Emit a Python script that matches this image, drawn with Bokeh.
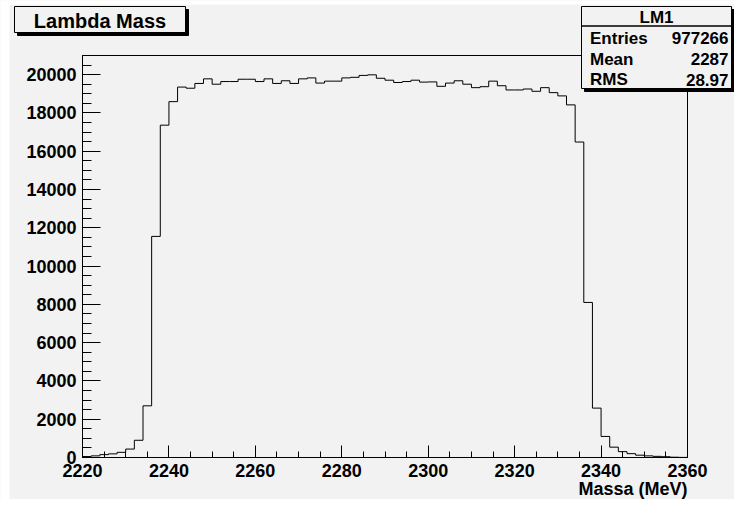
from bokeh.plotting import figure
from bokeh.models import Range1d, FixedTicker, Label, BoxAnnotation
from bokeh.embed import file_html
from bokeh.resources import INLINE

# ---- data ----
bin_low = [2220, 2222, 2224, 2226, 2228, 2230, 2232, 2234, 2236, 2238,
           2240, 2242, 2244, 2246, 2248, 2250, 2252, 2254, 2256, 2258,
           2260, 2262, 2264, 2266, 2268, 2270, 2272, 2274, 2276, 2278,
           2280, 2282, 2284, 2286, 2288, 2290, 2292, 2294, 2296, 2298,
           2300, 2302, 2304, 2306, 2308, 2310, 2312, 2314, 2316, 2318,
           2320, 2322, 2324, 2326, 2328, 2330, 2332, 2334, 2336, 2338,
           2340, 2342, 2344, 2346, 2348, 2350, 2352, 2354, 2356, 2358]
bin_high_last = 2360
counts = [50, 85, 150, 190, 270, 440, 900, 2700, 11550, 17360,
          18590, 19350, 19290, 19540, 19780, 19500, 19640, 19640, 19760, 19760,
          19640, 19780, 19540, 19680, 19540, 19780, 19830, 19560, 19660, 19660,
          19830, 19860, 19960, 19990, 19810, 19710, 19590, 19640, 19710, 19610,
          19620, 19390, 19560, 19680, 19500, 19320, 19370, 19660, 19420, 19200,
          19200, 19250, 19130, 19320, 19060, 18890, 18420, 16480, 8100, 2580,
          1100, 540, 306, 200, 120, 85, 60, 40, 15, 5]

x_ticks = [2220, 2240, 2260, 2280, 2300, 2320, 2340, 2360]
x_minor = [2220, 2225, 2230, 2235, 2240, 2245, 2250, 2255, 2260, 2265, 2270,
           2275, 2280, 2285, 2290, 2295, 2300, 2305, 2310, 2315, 2320, 2325,
           2330, 2335, 2340, 2345, 2350, 2355, 2360]
y_ticks = [0, 2000, 4000, 6000, 8000, 10000, 12000, 14000, 16000, 18000, 20000]
y_minor = [0, 500, 1000, 1500, 2000, 2500, 3000, 3500, 4000, 4500, 5000,
           5500, 6000, 6500, 7000, 7500, 8000, 8500, 9000, 9500, 10000,
           10500, 11000, 11500, 12000, 12500, 13000, 13500, 14000, 14500,
           15000, 15500, 16000, 16500, 17000, 17500, 18000, 18500, 19000,
           19500, 20000, 20500, 21000]

title_text = "Lambda Mass"
x_label = "Massa (MeV)"
stats_name = "LM1"
stats_rows = [("Entries", "977266"), ("Mean", "2287"), ("RMS", "28.97")]

X0, X1 = 2220, 2360
Y0, Y1 = 0, 21000

# ---- geometry (figure pixels) ----
W, H = 734, 499
FL, FR, FT, FB = 82, 687, 55, 457  # histogram frame edges


def dx(sx):
    return X0 + (sx - FL) * (X1 - X0) / (FR - FL)


def dy(sy):
    return Y0 + (FB - sy) * (Y1 - Y0) / (FB - FT)


BG = "#f2f2f2"
FONT = "Liberation Sans"

# the drawing area covers the whole canvas; axes are pinned to the frame edges
p = figure(width=W, height=H, title=None,
           x_range=Range1d(dx(0), dx(W)), y_range=Range1d(dy(H), dy(0)),
           output_backend="svg", toolbar_location=None, min_border=0)
p.background_fill_color = BG
p.border_fill_color = BG
p.outline_line_color = None
p.xgrid.grid_line_color = None
p.ygrid.grid_line_color = None

for ax in (p.xaxis[0], p.yaxis[0]):
    ax.axis_line_color = "black"
    ax.major_tick_line_color = "black"
    ax.minor_tick_line_color = "black"
    ax.major_tick_out = 0
    ax.minor_tick_out = 0
    ax.major_label_text_font = FONT
    ax.major_label_text_font_style = "bold"
    ax.major_label_text_font_size = "18px"
    ax.major_label_text_color = "black"

xa = p.xaxis[0]
xa.fixed_location = Y0
xa.bounds = (X0, X1)
xa.ticker = FixedTicker(ticks=x_ticks, minor_ticks=x_minor)
xa.major_tick_in = 12
xa.minor_tick_in = 6
xa.major_label_standoff = 6

ya = p.yaxis[0]
ya.fixed_location = X0
ya.bounds = (Y0, Y1)
ya.ticker = FixedTicker(ticks=y_ticks, minor_ticks=y_minor)
ya.major_tick_in = 18
ya.minor_tick_in = 9
ya.major_label_standoff = 6

# white page strips seen at the left and top of the reference
p.add_layout(BoxAnnotation(left=dx(0), right=dx(9), top=dy(0), bottom=dy(H),
                           fill_color="white", fill_alpha=1.0, line_color=None))
p.add_layout(BoxAnnotation(left=dx(0), right=dx(W), top=dy(0), bottom=dy(4),
                           fill_color="white", fill_alpha=1.0, line_color=None))

# histogram outline
edges = bin_low + [bin_high_last]
levels = counts + [counts[-1]]
p.step(x=edges, y=levels, mode="after", line_color="black", line_width=1)

# frame
p.add_layout(BoxAnnotation(left=X0, right=X1, bottom=Y0, top=Y1,
                           fill_color=None, line_color="black", line_width=1,
                           line_alpha=1.0))


def text(sx, sy, s, size, align):
    p.add_layout(Label(x=dx(sx), y=dy(sy), text=s, text_font=FONT,
                       text_font_style="bold", text_font_size=size,
                       text_align=align, text_baseline="middle",
                       text_color="black"))


# x axis title (right aligned under axis)
text(FR, 488, x_label, "18px", "right")


def box(l, r, t, b, shadow=3):
    p.add_layout(BoxAnnotation(left=dx(l + shadow), right=dx(r + shadow),
                               top=dy(t + shadow), bottom=dy(b + shadow),
                               fill_color="black", fill_alpha=1.0,
                               line_color="black", line_alpha=1.0))
    p.add_layout(BoxAnnotation(left=dx(l), right=dx(r), top=dy(t), bottom=dy(b),
                               fill_color=BG, fill_alpha=1.0,
                               line_color="black", line_width=1, line_alpha=1.0))


# title box
TL, TR, TT, TB = 14, 185, 6, 32
box(TL, TR, TT, TB)
text((TL + TR) / 2, 20, title_text, "20px", "center")

# stats box
SL, SR, ST, SB = 581, 731, 6, 88
SLINE = 25.5
box(SL, SR, ST, SB)
p.add_layout(BoxAnnotation(left=dx(SL), right=dx(SR), top=dy(SLINE), bottom=dy(SLINE),
                           fill_color=None, line_color="black", line_width=1,
                           line_alpha=1.0))
text((SL + SR) / 2, 17.2, stats_name, "17px", "center")
row_mid = [37.5, 58.5, 79.2]
for (name, val), ym in zip(stats_rows, row_mid):
    text(SL + 8.5, ym, name, "17px", "left")
    text(SR - 3, ym, val, "17px", "right")

open("out.html", "w").write(file_html(p, INLINE))
